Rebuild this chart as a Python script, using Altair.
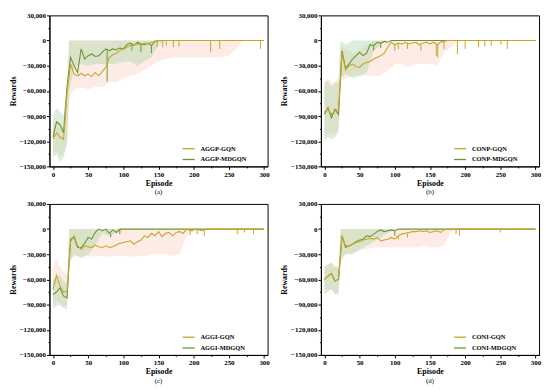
import altair as alt
import pandas as pd

# ---------------- data (rewards in thousands) ----------------
EPISODES = list(range(0, 301, 5))
BAND_EPISODES = [0, 5, 10, 15, 20, 23] + list(range(30, 301, 10))

PANEL_LABELS = ["(a)", "(b)", "(c)", "(d)"]
SERIES_NAMES = [
    ("AGGP-GQN", "AGGP-MDGQN"),
    ("CONP-GQN", "CONP-MDGQN"),
    ("AGGI-GQN", "AGGI-MDGQN"),
    ("CONI-GQN", "CONI-MDGQN"),
]

# mean curves, one value every 5 episodes
A_GQN = [-117, -110, -115, -118, -62, -28, -40, -42, -39, -42, -40, -43, -38, -42, -37, -32,
         -20, -17, -15, -12, -10, -8, -6, -5, -4, -5, -3, -4, -2, -1,
         0, 0, 0, 0, 0, 0, 0, 0, 0, 0, 0, 0, 0, 0, 0, 0, 0, 0, 0, 0, 0, 0, 0, 0, 0, 0, 0, 0, 0, 0, 0]
A_MDGQN = [-115, -97, -100, -110, -55, -20, -30, -38, -10, -22, -18, -16, -19, -18, -14, -10,
           -12, -10, -11, -9, -10, -5, -3, -6, -2, -4, -5, -3, -6, -1,
           0, 0, 0, 0, 0, 0, 0, 0, 0, 0, 0, 0, 0, 0, 0, 0, 0, 0, 0, 0, 0, 0, 0, 0, 0, 0, 0, 0, 0, 0, 0]
B_GQN = [-85, -82, -88, -84, -82, -15, -35, -30, -28, -31, -32, -28, -26, -25, -22, -20,
         -18, -15, -8, -2, -5, -3, -4, -2, -4, -3, -2, -5, -3, -2, -4, -2, -5, -2, -1,
         0, 0, 0, 0, 0, 0, 0, 0, 0, 0, 0, 0, 0, 0, 0, 0, 0, 0, 0, 0, 0, 0, 0, 0, 0, 0]
B_MDGQN = [-88, -80, -92, -82, -88, -12, -33, -28, -22, -18, -14, -18, -15, -5, -6, -2,
           -3, -1, -2,
           0, 0, 0, 0, 0, 0, 0, 0, 0, 0, 0, 0, 0, 0, 0, 0, 0, 0, 0, 0, 0, 0, 0, 0, 0, 0, 0,
           0, 0, 0, 0, 0, 0, 0, 0, 0, 0, 0, 0, 0, 0, 0]
C_GQN = [-72, -55, -68, -75, -74, -15, -8, -20, -24, -20, -21, -22, -19, -21, -22, -20,
         -22, -21, -19, -17, -16, -15, -14, -18, -15, -13, -8, -10, -5, -8, -3, -9, -5, -4,
         -8, -4, -3, -5, 0, -2, -1, 0, -2, -1,
         0, 0, 0, 0, 0, 0, 0, 0, 0, 0, 0, 0, 0, 0, 0, 0, 0]
C_MDGQN = [-78, -75, -70, -80, -82, -12, -10, -22, -22, -17, -10, -12, -4, 0, -2, 0,
           -5, -1, -4, 0,
           0, 0, 0, 0, 0, 0, 0, 0, 0, 0, 0, 0, 0, 0, 0, 0, 0, 0, 0, 0, 0, 0, 0, 0, 0, 0,
           0, 0, 0, 0, 0, 0, 0, 0, 0, 0, 0, 0, 0, 0, 0]
D_GQN = [-60, -56, -53, -62, -60, -8, -20, -20, -18, -16, -15, -13, -12, -11, -12, -10,
         -14, -13, -12, -10, -12, -8, -6, -5, -4, -3, -3, -2, -3, -2, -4, -3, -2, -4, -1,
         0, 0, 0, 0, 0, 0, 0, 0, 0, 0, 0, 0, 0, 0, 0, 0, 0, 0, 0, 0, 0, 0, 0, 0, 0, 0]
D_MDGQN = [-60, -56, -53, -62, -60, -8, -22, -20, -18, -15, -13, -12, -8, -9, -6, -3,
           -1, -3, -2, -1, -2,
           0, 0, 0, 0, 0, 0, 0, 0, 0, 0, 0, 0, 0, 0, 0, 0, 0, 0, 0, 0, 0, 0, 0, 0, 0, 0,
           0, 0, 0, 0, 0, 0, 0, 0, 0, 0, 0, 0, 0, 0]

# shaded ranges (low / high) at BAND_EPISODES
A_GQN_LO = [-135, -130, -138, -135, -125, -70, -58, -56, -58, -55, -56, -50, -50, -45, -42, -40,
            -35, -30, -25, -22, -20, -20, -20, -20, -20, -20, -20, -20, -18, -10, 0, 0, 0, 0]
A_GQN_HI = [-100, -95, -100, -105, -60, 0, 0, 0, 0, 0, 0, 0, 0, 0, 0, 0,
            0, 0, 0, 0, 0, 0, 0, 0, 0, 0, 0, 0, 0, 0, 0, 0, 0, 0]
A_MDGQN_LO = [-140, -135, -145, -140, -120, -60, -32, -28, -30, -28, -28, -28, -28, -25, -25, -30,
              -25, -20, -5, 0, 0, 0, 0, 0, 0, 0, 0, 0, 0, 0, 0, 0, 0, 0]
A_MDGQN_HI = [-90, -80, -85, -90, -50, 0, 0, 0, 0, 0, 0, 0, 0, 0, 0, 0,
              0, 0, 0, 0, 0, 0, 0, 0, 0, 0, 0, 0, 0, 0, 0, 0, 0, 0]

B_GQN_LO = [-115, -112, -110, -112, -105, -50, -45, -42, -42, -42, -42, -42, -35, -28, -28, -32,
            -28, -28, -28, -30, -15, -8, 0, 0, 0, 0, 0, 0, 0, 0, 0, 0, 0, 0]
B_GQN_HI = [-50, -45, -50, -50, -45, -5, -10, -15, -12, -5, 0, 0, 0, 0, 0, 0,
            0, 0, 0, 0, 0, 0, 0, 0, 0, 0, 0, 0, 0, 0, 0, 0, 0, 0]
B_MDGQN_LO = [-120, -115, -118, -115, -110, -45, -40, -45, -42, -38, -12, -5, 0, 0, 0, 0,
              0, 0, 0, 0, 0, 0, 0, 0, 0, 0, 0, 0, 0, 0, 0, 0, 0, 0]
B_MDGQN_HI = [-50, -48, -55, -50, -50, 0, -5, 0, 0, 0, 0, 0, 0, 0, 0, 0,
              0, 0, 0, 0, 0, 0, 0, 0, 0, 0, 0, 0, 0, 0, 0, 0, 0, 0]

C_GQN_LO = [-90, -85, -90, -92, -90, -40, -32, -33, -32, -33, -32, -33, -32, -32, -33, -32,
            -32, -30, -30, -30, -32, -30, -8, -3, 0, 0, 0, 0, 0, 0, 0, 0, 0, 0]
C_GQN_HI = [-45, -35, -45, -50, -55, 0, 0, 0, 0, 0, 0, 0, 0, 0, 0, 0,
            0, 0, 0, 0, 0, 0, 0, 0, 0, 0, 0, 0, 0, 0, 0, 0, 0, 0]
C_MDGQN_LO = [-95, -92, -90, -95, -95, -40, -30, -35, -30, -20, -5, -8, -5, 0, 0, 0,
              0, 0, 0, 0, 0, 0, 0, 0, 0, 0, 0, 0, 0, 0, 0, 0, 0, 0]
C_MDGQN_HI = [-60, -58, -55, -62, -65, 0, 0, 0, 0, 0, 0, 0, 0, 0, 0, 0,
              0, 0, 0, 0, 0, 0, 0, 0, 0, 0, 0, 0, 0, 0, 0, 0, 0, 0]

D_GQN_LO = [-75, -72, -72, -78, -75, -40, -30, -28, -25, -24, -22, -22, -22, -22, -22, -22,
            -22, -20, -22, -22, -20, -3, 0, 0, 0, 0, 0, 0, 0, 0, 0, 0, 0, 0]
D_GQN_HI = [-45, -42, -40, -45, -45, 0, 0, 0, 0, 0, 0, 0, 0, 0, 0, 0,
            0, 0, 0, 0, 0, 0, 0, 0, 0, 0, 0, 0, 0, 0, 0, 0, 0, 0]
D_MDGQN_LO = [-78, -75, -72, -78, -78, -35, -30, -30, -25, -20, -15, -10, -5, 0, 0, 0,
              0, 0, 0, 0, 0, 0, 0, 0, 0, 0, 0, 0, 0, 0, 0, 0, 0, 0]
D_MDGQN_HI = [-45, -42, -40, -45, -45, 0, 0, 0, 0, 0, 0, 0, 0, 0, 0, 0,
              0, 0, 0, 0, 0, 0, 0, 0, 0, 0, 0, 0, 0, 0, 0, 0, 0, 0]

# isolated downward spikes: (episode, top, bottom)
A_GQN_SPIKES = [(148, -1, -8), (156, 0, -8), (161, 0, -6), (171, 0, -8), (179, 0, -7),
                (224, 0, -14), (237, 0, -10), (295, 0, -10)]
A_MDGQN_SPIKES = [(77, -10, -49), (112, -3, -12), (125, -4, -14), (140, -6, -15)]
B_GQN_SPIKES = [(100, -5, -12), (105, -3, -10), (118, -3, -10), (137, -5, -12), (159, -5, -18),
                (161, -5, -20), (170, -1, -10), (189, 0, -16), (200, 0, -10), (219, 0, -8),
                (228, 0, -7), (237, 0, -6), (251, 0, -5), (260, 0, -10)]
B_MDGQN_SPIKES = [(70, -6, -12), (80, -3, -9)]
C_GQN_SPIKES = [(195, -2, -7), (205, 0, -6), (215, -1, -8), (262, 0, -6), (272, 0, -4), (285, 0, -6)]
C_MDGQN_SPIKES = [(82, -5, -10), (95, 0, -6)]
D_GQN_SPIKES = [(105, -8, -12), (118, -5, -10), (187, 0, -6), (192, 0, -8), (250, 0, -4)]
D_MDGQN_SPIKES = [(100, -2, -8)]

PANELS = [
    (A_GQN, A_MDGQN, A_GQN_LO, A_GQN_HI, A_MDGQN_LO, A_MDGQN_HI, A_GQN_SPIKES, A_MDGQN_SPIKES),
    (B_GQN, B_MDGQN, B_GQN_LO, B_GQN_HI, B_MDGQN_LO, B_MDGQN_HI, B_GQN_SPIKES, B_MDGQN_SPIKES),
    (C_GQN, C_MDGQN, C_GQN_LO, C_GQN_HI, C_MDGQN_LO, C_MDGQN_HI, C_GQN_SPIKES, C_MDGQN_SPIKES),
    (D_GQN, D_MDGQN, D_GQN_LO, D_GQN_HI, D_MDGQN_LO, D_MDGQN_HI, D_GQN_SPIKES, D_MDGQN_SPIKES),
]

X_TICKS = list(range(0, 301, 25))
Y_TICKS = list(range(-150000, 30001, 15000))

# ---------------- styling ----------------
FONT = "Liberation Serif"
GQN_LINE = "#C6A62A"
MDGQN_LINE = "#6E9535"
GQN_FILL = "#F4A07C"
MDGQN_FILL = "#8CCB8A"
W, H = 221, 153

x_scale = alt.Scale(domain=[-5, 305], nice=False, zero=False)
y_scale = alt.Scale(domain=[-150000, 30000], nice=False, zero=False)

x_axis = alt.Axis(
    title="Episode", values=X_TICKS,
    labelExpr="datum.value % 50 === 0 ? format(datum.value, 'd') : ''",
    tickSize={"condition": {"test": "datum.value % 50 === 0", "value": 3}, "value": 1.5},
    labelOverlap=False, labelFlush=False,
)
y_axis = alt.Axis(
    title="Rewards", values=Y_TICKS,
    labelExpr="datum.value % 30000 === 0 ? format(datum.value, ',') : ''",
    tickSize={"condition": {"test": "datum.value % 30000 === 0", "value": 3}, "value": 1.5},
    labelOverlap=False, labelFlush=False,
)


def make_panel(i):
    gqn, mdgqn, glo, ghi, mlo, mhi, gsp, msp = PANELS[i]
    gname, mname = SERIES_NAMES[i]

    lines_g = pd.DataFrame({"ep": EPISODES, "r": [v * 1000 for v in gqn], "series": gname})
    lines_m = pd.DataFrame({"ep": EPISODES, "r": [v * 1000 for v in mdgqn], "series": mname})
    band_g = pd.DataFrame({"ep": BAND_EPISODES, "lo": [v * 1000 for v in glo], "hi": [v * 1000 for v in ghi]})
    band_m = pd.DataFrame({"ep": BAND_EPISODES, "lo": [v * 1000 for v in mlo], "hi": [v * 1000 for v in mhi]})
    sp_g = pd.DataFrame({"ep": [s[0] for s in gsp], "top": [s[1] * 1000 for s in gsp],
                         "bot": [s[2] * 1000 for s in gsp]})
    sp_m = pd.DataFrame({"ep": [s[0] for s in msp], "top": [s[1] * 1000 for s in msp],
                         "bot": [s[2] * 1000 for s in msp]})

    X = alt.X("ep:Q", scale=x_scale, axis=x_axis)
    stroke_scale = alt.Scale(domain=[gname, mname], range=[GQN_LINE, MDGQN_LINE])
    legend = alt.Legend(
        orient="none", legendX=W - 87, legendY=H - 25, title=None,
        symbolType="stroke", symbolSize=150, symbolStrokeWidth=1.3,
        labelFont=FONT, labelFontSize=6.5, labelFontWeight="bold", labelColor="black",
        rowPadding=-4, padding=0, labelOffset=5,
    )

    area_g = alt.Chart(band_g).mark_area(color=GQN_FILL, opacity=0.2).encode(
        x=X, y=alt.Y("lo:Q", scale=y_scale, axis=y_axis), y2="hi:Q")
    area_m = alt.Chart(band_m).mark_area(color=MDGQN_FILL, opacity=0.3).encode(
        x=X, y=alt.Y("lo:Q", scale=y_scale, axis=y_axis), y2="hi:Q")
    line_m = alt.Chart(lines_m).mark_line(strokeWidth=1.1).encode(
        x=X, y=alt.Y("r:Q", scale=y_scale, axis=y_axis),
        stroke=alt.Stroke("series:N", scale=stroke_scale, legend=legend))
    line_g = alt.Chart(lines_g).mark_line(strokeWidth=1.1).encode(
        x=X, y=alt.Y("r:Q", scale=y_scale, axis=y_axis),
        stroke=alt.Stroke("series:N", scale=stroke_scale, legend=legend))
    rule_m = alt.Chart(sp_m).mark_rule(strokeWidth=1, color=MDGQN_LINE).encode(
        x=X, y=alt.Y("top:Q", scale=y_scale, axis=y_axis), y2="bot:Q")
    rule_g = alt.Chart(sp_g).mark_rule(strokeWidth=1, color=GQN_LINE).encode(
        x=X, y=alt.Y("top:Q", scale=y_scale, axis=y_axis), y2="bot:Q")

    return alt.layer(area_g, area_m, line_m, rule_m, line_g, rule_g).properties(
        width=W, height=H,
        title=alt.TitleParams(PANEL_LABELS[i], orient="bottom", font=FONT, fontSize=7,
                              fontWeight="normal", color="black", offset=1),
    )


top = alt.hconcat(make_panel(0), make_panel(1), spacing=9).resolve_scale(stroke="independent")
bottom = alt.hconcat(make_panel(2), make_panel(3), spacing=9).resolve_scale(stroke="independent")
chart = alt.vconcat(top, bottom, spacing=3).resolve_scale(stroke="independent").properties(
    padding={"left": 0, "top": 0, "right": 0, "bottom": 0}, background="white"
).configure_axis(
    labelFont=FONT, labelFontSize=7, labelFontWeight="bold", labelColor="black",
    titleFont=FONT, titleFontSize=8, titleFontWeight="bold", titleColor="black",
    domainColor="black", tickColor="black", grid=False, labelPadding=1, titlePadding=2,
).configure_view(stroke="black", strokeWidth=1)

chart.save("out.html", embed_options={"renderer": "svg", "actions": False})
